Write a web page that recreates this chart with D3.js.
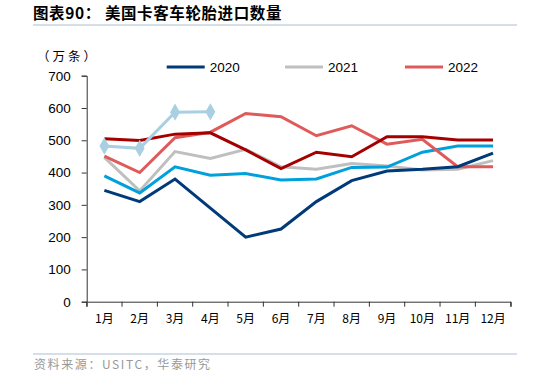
<!DOCTYPE html>
<html><head><meta charset="utf-8">
<script src="https://cdn.jsdelivr.net/npm/d3@7"></script>
<style>body{margin:0;background:#fff}</style>
</head><body><svg id="c" width="534" height="378"></svg>
<script>
const months = ["1月","2月","3月","4月","5月","6月","7月","8月","9月","10月","11月","12月"];
const yTicks = [0,100,200,300,400,500,600,700];
const s2020 = [345,310,380,290,200,225,310,375,405,410,418,460];
const s2021 = [447,343,465,444,472,418,410,428,420,408,410,437];
const s2022 = [451,400,508,525,583,573,514,545,488,503,418,418];
const sDarkRed = [505,499,519,523,470,412,463,449,511,511,501,501];
const sBlue = [390,337,418,392,397,377,380,416,417,463,482,482];
const sLight = [482,475,587,588];
const legendNames = ["2020","2021","2022"];

const svg = d3.select("#c");
const cjk = "'Noto Sans CJK SC', sans-serif";
const lat = "'Liberation Sans', Arial, sans-serif";

svg.append("text").attr("x",33).attr("y",19).attr("font-family",cjk).attr("font-weight","bold")
  .attr("font-size",15.5).attr("letter-spacing",0.6).attr("fill","#000").text("图表90：  美国卡客车轮胎进口数量");
svg.append("line").attr("x1",33).attr("x2",517).attr("y1",25).attr("y2",25).attr("stroke","#a9bfd6").attr("stroke-width",1.2);
svg.append("line").attr("x1",33).attr("x2",517).attr("y1",354).attr("y2",354).attr("stroke","#a9bfd6").attr("stroke-width",1.2);
svg.append("text").attr("x",34).attr("y",369).attr("font-family",cjk).attr("font-size",12)
  .attr("letter-spacing",1.6).attr("fill","#999").text("资料来源：USITC，华泰研究");

const x = d3.scaleBand().domain(months).range([86.7,510.7]);
const y = d3.scaleLinear().domain([0,700]).range([301.7,75.7]);

const gx = svg.append("g").attr("transform","translate(0,301.7)")
  .call(d3.axisBottom(x).tickSize(5).tickSizeOuter(5).tickPadding(8));
gx.select(".domain").attr("stroke","#333");
gx.selectAll(".tick line").attr("stroke","#333").attr("transform",`translate(${-x.bandwidth()/2},0)`);
gx.append("line").attr("x1",510.7).attr("x2",510.7).attr("y1",0).attr("y2",5).attr("stroke","#333");
gx.selectAll("text").attr("font-family",cjk).attr("font-size",12).attr("fill","#000");

const gy = svg.append("g").attr("transform","translate(86.7,0)")
  .call(d3.axisLeft(y).tickValues(yTicks).tickSize(5).tickPadding(11));
gy.select(".domain").attr("stroke","#333");
gy.selectAll(".tick line").attr("stroke","#333");
gy.selectAll("text").attr("font-family",lat).attr("font-size",13.5).attr("fill","#000");

svg.append("text").attr("x",37).attr("y",61).attr("font-family",cjk).attr("font-size",12.5)
  .attr("letter-spacing",3).attr("fill","#000").text("（万条）");

const line = d3.line().x((d,i)=>x(months[i])+x.bandwidth()/2).y(d=>y(d));
const series = [
  {v:s2021,c:"#bfbfbf"},
  {v:sBlue,c:"#00a0dc"},
  {v:s2022,c:"#e05a5a"},
  {v:sDarkRed,c:"#a50000"},
  {v:s2020,c:"#003a78"},
  {v:sLight,c:"#a8d0e2",m:true}
];
series.forEach(s=>{
  svg.append("path").datum(s.v).attr("d",line).attr("fill","none").attr("stroke",s.c).attr("stroke-width",3);
  if(s.m){
    svg.selectAll(null).data(s.v).enter().append("path")
      .attr("d",d3.symbol().type(d3.symbolDiamond).size(85))
      .attr("transform",(d,i)=>`translate(${x(months[i])+x.bandwidth()/2},${y(d)})`)
      .attr("fill",s.c);
  }
});

const legendColors = ["#003a78","#bfbfbf","#e05a5a"];
const lx = [166.7,285,405];
legendNames.forEach((n,i)=>{
  svg.append("line").attr("x1",lx[i]).attr("x2",lx[i]+38).attr("y1",67).attr("y2",67)
    .attr("stroke",legendColors[i]).attr("stroke-width",3);
  svg.append("text").attr("x",lx[i]+43).attr("y",72).attr("font-family",lat).attr("font-size",13.5)
    .attr("fill","#000").text(n);
});
</script></body></html>
